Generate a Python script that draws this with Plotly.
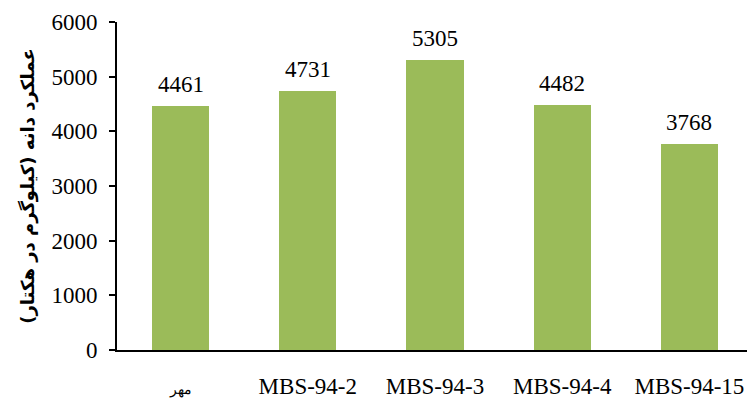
import plotly.graph_objects as go

# Grain yield per cultivar / line
categories = ["مهر", "MBS-94-2", "MBS-94-3", "MBS-94-4", "MBS-94-15"]
yields = [4461, 4731, 5305, 4482, 3768]
tick_labels = ['<span style="font-size:14px">مهر</span>', "MBS-94-2", "MBS-94-3", "MBS-94-4", "MBS-94-15"]
y_ticks = [0, 1000, 2000, 3000, 4000, 5000, 6000]
y_title = "عملکرد دانه (کیلوگرم در هکتار)"

serif = "Liberation Serif, DejaVu Serif, serif"
bar_color = "#9BBB59"

x_idx = list(range(len(categories)))

fig = go.Figure()
fig.add_trace(go.Bar(
    x=x_idx,
    y=yields,
    width=0.45,
    marker=dict(color=bar_color, line=dict(width=0)),
    showlegend=False,
    hoverinfo="skip",
))

# Value labels above each bar
for xi, v in zip(x_idx, yields):
    fig.add_annotation(
        x=xi, y=v, text=str(v), showarrow=False,
        yanchor="bottom", yshift=7,
        font=dict(family=serif, size=23, color="black"),
    )

fig.update_layout(
    width=747, height=399,
    margin=dict(l=117, r=0, t=22, b=49, autoexpand=False),
    plot_bgcolor="white", paper_bgcolor="white",
    bargap=0,
)

fig.update_xaxes(
    range=[-0.5, 4.453],
    tickmode="array", tickvals=x_idx, ticktext=tick_labels,
    tickfont=dict(family=serif, size=23, color="black"),
    showline=True, linecolor="black", linewidth=1.8,
    ticks="", showgrid=False, zeroline=False,
    ticklabelstandoff=14, automargin=False,
)

fig.update_yaxes(
    range=[0, 6000],
    tickmode="array", tickvals=y_ticks, ticktext=[str(t) for t in y_ticks],
    tickfont=dict(family=serif, size=23, color="black"),
    showline=True, linecolor="black", linewidth=1.8,
    ticks="outside", ticklen=6, tickcolor="black", tickwidth=1.5,
    showgrid=False, zeroline=False,
    ticklabelstandoff=7, automargin=False,
    title=dict(text=y_title, font=dict(family="DejaVu Sans", size=18, color="black", weight="bold"), standoff=12),
)

fig.write_html("out.html")
